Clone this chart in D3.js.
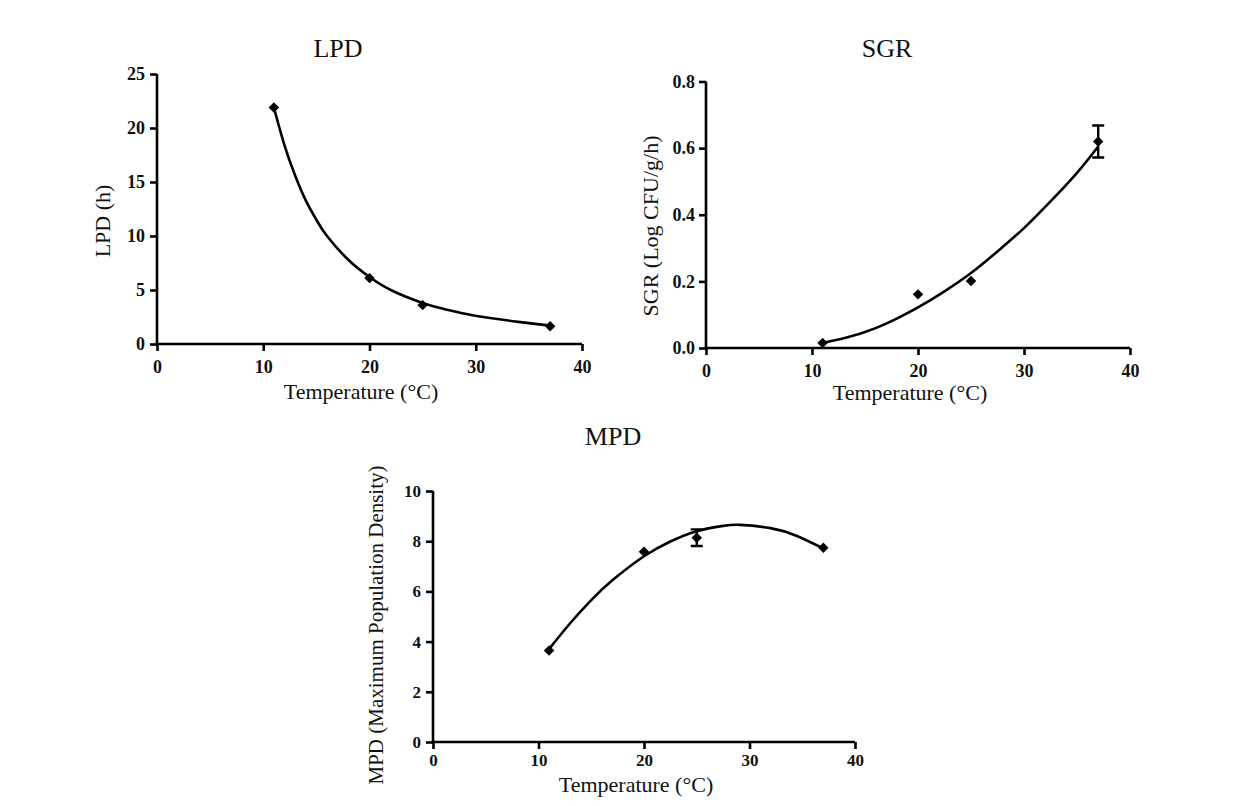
<!DOCTYPE html>
<html><head><meta charset="utf-8">
<script src="https://cdn.jsdelivr.net/npm/d3@7"></script>
<style>body{margin:0;background:#fff}svg{display:block}</style>
</head><body>
<svg id="c" width="1240" height="806"></svg>
<script>
// ---- data ----
const temps = [11, 20, 25, 37];
const xTicks = [0, 10, 20, 30, 40];

const lpdValues = [21.9, 6.1, 3.6, 1.65];
const lpdErr = [0, 0, 0, 0];
const lpdFitX = [11, 12, 13, 14, 15, 16, 18, 20, 22, 25, 27, 29, 31, 34, 37];
const lpdFitY = [21.9, 18.4, 15.6, 13.3, 11.5, 10.0, 7.8, 6.2, 5.0, 3.8, 3.25, 2.8, 2.45, 2.05, 1.7];
const lpdTicks = [0, 5, 10, 15, 20, 25];

const sgrValues = [0.015, 0.161, 0.201, 0.62];
const sgrErr = [0, 0, 0, 0.048];
const sgrFitX = [11, 13, 15, 17, 20, 22.5, 25, 27.5, 30, 32.5, 35, 37];
const sgrFitY = [0.015, 0.029, 0.048, 0.073, 0.122, 0.170, 0.225, 0.290, 0.360, 0.440, 0.526, 0.605];
const sgrTicks = [0, 0.2, 0.4, 0.6, 0.8];

const mpdValues = [3.65, 7.58, 8.14, 7.74];
const mpdErr = [0, 0, 0.33, 0];
const mpdFitX = [11, 13, 15, 17, 20, 22.5, 25, 27.5, 29.1, 32, 34.5, 37];
const mpdFitY = [3.7, 4.73, 5.65, 6.44, 7.40, 7.99, 8.40, 8.61, 8.65, 8.52, 8.21, 7.71];
const mpdTicks = [0, 2, 4, 6, 8, 10];

// ---- drawing ----
const svg = d3.select("#c");
const serif = "'Liberation Serif','Times New Roman',serif";

function panel(o) {
  const g = svg.append("g");
  const x = d3.scaleLinear().domain([0, 40]).range([o.x0, o.x1]);
  const y = d3.scaleLinear().domain([0, o.ymax]).range([o.y0, o.y1]);

  const ax = g.append("g").attr("transform", `translate(0,${o.y0})`)
    .call(d3.axisBottom(x).tickValues(xTicks).tickSize(7).tickSizeOuter(0).tickPadding(o.xpad));
  const ay = g.append("g").attr("transform", `translate(${o.x0},0)`)
    .call(d3.axisLeft(y).tickValues(o.ticks).tickFormat(o.fmt).tickSize(7).tickSizeOuter(0).tickPadding(o.ypad));
  [ax, ay].forEach(a => {
    a.selectAll("path,line").attr("stroke", "#000").attr("stroke-width", 2.6);
    a.selectAll("text").attr("fill", "#111").style("font-family", serif)
      .style("font-size", o.tickSize).style("font-weight", "bold");
  });
  ax.select(".domain").attr("d", `M${o.x0 - 1.3},0H${o.x1}`);
  ay.select(".domain").attr("d", `M0,${o.y0 + 1.3}V${o.y1}`);

  // fit curve
  const pts = o.fitX.map((v, i) => [x(v), y(o.fitY[i])]);
  g.append("path").attr("d", d3.line().curve(d3.curveNatural)(pts))
    .attr("fill", "none").attr("stroke", "#000").attr("stroke-width", 2.6);

  // error bars
  temps.forEach((t, i) => {
    const e = o.err[i];
    if (!e) return;
    const cx = x(t), yt = y(o.vals[i] + e), yb = y(o.vals[i] - e), c = o.cap;
    g.append("path").attr("d", `M${cx},${yt}V${yb}M${cx - c},${yt}H${cx + c}M${cx - c},${yb}H${cx + c}`)
      .attr("stroke", "#000").attr("stroke-width", 2.4).attr("fill", "none");
  });

  // markers
  g.selectAll("path.pt").data(temps).enter().append("path").attr("class", "pt")
    .attr("d", d3.symbol().type(d3.symbolDiamond2).size(70))
    .attr("transform", (t, i) => `translate(${x(t)},${y(o.vals[i])})`)
    .attr("fill", "#000");

  // texts
  g.append("text").attr("x", o.title[0]).attr("y", o.title[1]).attr("text-anchor", "middle")
    .style("font-family", serif).style("font-size", "26px").attr("fill", "#111").text(o.titleText);
  g.append("text").attr("x", o.xl[0]).attr("y", o.xl[1]).attr("text-anchor", "middle")
    .style("font-family", serif).style("font-size", "22px").attr("fill", "#111").text("Temperature (°C)");
  g.append("text").attr("transform", `translate(${o.yl[0]},${o.yl[1]}) rotate(-90)`).attr("text-anchor", "middle")
    .style("font-family", serif).style("font-size", o.ylSize || "22px").attr("fill", "#111").text(o.ylText);
}

panel({x0: 157, x1: 582, y0: 344, y1: 74, ymax: 25, ticks: lpdTicks, fmt: d3.format("d"),
  xpad: 9, ypad: 5, tickSize: "18px", cap: 6,
  vals: lpdValues, err: lpdErr, fitX: lpdFitX, fitY: lpdFitY,
  titleText: "LPD", title: [338, 57], xl: [361, 399], yl: [110, 221], ylText: "LPD (h)"});
panel({x0: 706, x1: 1130, y0: 348, y1: 81.5, ymax: 0.8, ticks: sgrTicks, fmt: d3.format(".1f"),
  xpad: 9, ypad: 4, tickSize: "18px", cap: 6,
  vals: sgrValues, err: sgrErr, fitX: sgrFitX, fitY: sgrFitY,
  titleText: "SGR", title: [887, 57], xl: [910, 400], yl: [658, 226], ylText: "SGR (Log CFU/g/h)"});
panel({x0: 433, x1: 855, y0: 742, y1: 491, ymax: 10, ticks: mpdTicks, fmt: d3.format("d"),
  xpad: 5, ypad: 5, tickSize: "17px", cap: 6,
  vals: mpdValues, err: mpdErr, fitX: mpdFitX, fitY: mpdFitY,
  titleText: "MPD", title: [613, 445], xl: [636, 792], yl: [383, 625], ylSize: "21px",
  ylText: "MPD (Maximum Population Density)"});
</script>
</body></html>
